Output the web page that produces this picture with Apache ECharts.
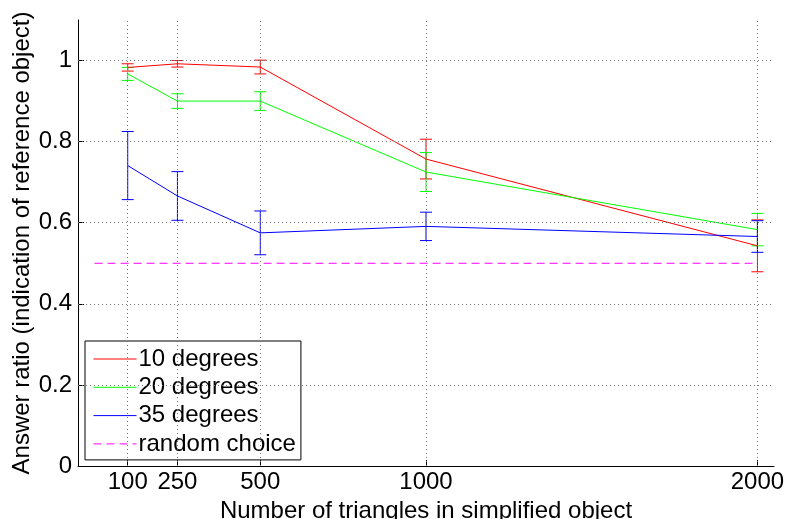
<!DOCTYPE html>
<html>
<head>
<meta charset="utf-8">
<script src="https://cdn.jsdelivr.net/npm/echarts@6/dist/echarts.min.js"></script>
<style>
html,body{margin:0;padding:0;background:#fff;}
#chart{width:787px;height:519px;}
</style>
</head>
<body>
<div id="chart"></div>
<script>
// ---- data ----
const triangles = [100, 250, 500, 1000, 2000];
const deg10 = [0.983, 0.992, 0.984, 0.757, 0.543];
const deg10Err = [0.009, 0.008, 0.017, 0.049, 0.064];
const deg20 = [0.967, 0.900, 0.900, 0.725, 0.583];
const deg20Err = [0.016, 0.018, 0.023, 0.048, 0.040];
const deg35 = [0.741, 0.666, 0.575, 0.591, 0.566];
const deg35Err = [0.084, 0.060, 0.054, 0.035, 0.039];
const randomX = [0, 2000];
const randomY = [0.5, 0.5];
const xTicks = [100, 250, 500, 1000, 2000];
const yTicks = [0, 0.2, 0.4, 0.6, 0.8, 1];
const seriesNames = ['10 degrees', '20 degrees', '35 degrees', 'random choice'];
const xTitle = 'Number of triangles in simplified object';
const yTitle = 'Answer ratio (indication of reference object)';

const FONT = '"Liberation Sans", Arial, Helvetica, sans-serif';
const colors = ['#ff0000', '#00ff00', '#0000ff', '#ff00ff'];

function pairs(xs, ys) { return xs.map((x, i) => [x, ys[i]]); }
function errData(xs, ys, es) { return xs.map((x, i) => [x, ys[i] - es[i], ys[i] + es[i]]); }

function errSeries(data, color) {
  return {
    type: 'custom',
    name: 'err',
    data: data,
    encode: { x: 0, y: [1, 2] },
    silent: true,
    renderItem: function (params, api) {
      const x = api.value(0);
      const pLo = api.coord([x, api.value(1)]);
      const pHi = api.coord([x, api.value(2)]);
      const hw = 6;
      const st = { stroke: color, lineWidth: 1 };
      return {
        type: 'group',
        children: [
          { type: 'line', shape: { x1: pLo[0], y1: pLo[1], x2: pHi[0], y2: pHi[1] }, style: st },
          { type: 'line', shape: { x1: pLo[0] - hw, y1: pLo[1], x2: pLo[0] + hw, y2: pLo[1] }, style: st },
          { type: 'line', shape: { x1: pHi[0] - hw, y1: pHi[1], x2: pHi[0] + hw, y2: pHi[1] }, style: st }
        ]
      };
    }
  };
}

function lineSeries(name, data, color, dashed) {
  return {
    type: 'line',
    name: name,
    data: data,
    symbol: 'none',
    silent: true,
    lineStyle: { color: color, width: 1, type: dashed ? [8, 5] : 'solid' },
    itemStyle: { color: color }
  };
}

const gridLineData = xTicks.map(v => ({ xAxis: v })).concat(yTicks.filter(v => v > 0).map(v => ({ yAxis: v })));

const chart = echarts.init(document.getElementById('chart'), null, { renderer: 'canvas' });
chart.setOption({
  animation: false,
  backgroundColor: '#fff',
  textStyle: { fontFamily: FONT },
  grid: { left: 78, right: 13, top: 20, bottom: 53, containLabel: false, outerBoundsMode: 'none' },
  xAxis: {
    type: 'value',
    min: -50,
    max: 2050,
    name: xTitle,
    nameLocation: 'middle',
    nameGap: 33,
    nameMoveOverlap: false,
    nameTextStyle: { fontSize: 24, color: '#000', fontFamily: FONT },
    axisLine: { show: true, onZero: false, lineStyle: { color: '#000', width: 1 } },
    axisTick: { show: true, inside: true, length: 6, customValues: xTicks, lineStyle: { color: '#000' } },
    axisLabel: { show: true, customValues: xTicks, fontSize: 24, color: '#000', margin: 4, fontFamily: FONT,
      formatter: v => String(v) },
    splitLine: { show: false }
  },
  yAxis: {
    type: 'value',
    min: 0,
    max: 1.1,
    name: yTitle,
    nameLocation: 'middle',
    nameGap: 44,
    nameMoveOverlap: false,
    nameTextStyle: { fontSize: 24, color: '#000', fontFamily: FONT },
    axisLine: { show: true, onZero: false, lineStyle: { color: '#000', width: 1 } },
    axisTick: { show: true, inside: true, length: 6, customValues: yTicks, lineStyle: { color: '#000' } },
    axisLabel: { show: true, customValues: yTicks, fontSize: 24, color: '#000', margin: 6, fontFamily: FONT,
      formatter: v => String(v) },
    splitLine: { show: false }
  },
  legend: {
    data: seriesNames,
    orient: 'vertical',
    left: 85,
    top: 341,
    padding: [6, 5, 4, 8],
    itemWidth: 43,
    itemHeight: 14,
    itemGap: 4.3,
    backgroundColor: '#fff',
    borderColor: '#000',
    borderWidth: 1,
    borderRadius: 0,
    selectedMode: false,
    itemStyle: { opacity: 0, borderWidth: 0 },
    lineStyle: { width: 1 },
    textStyle: { fontSize: 24, lineHeight: 24, color: '#000', fontFamily: FONT, padding: [0, 0, 0, -3] }
  },
  series: [
    {
      type: 'line',
      name: 'grid',
      data: [],
      silent: true,
      markLine: {
        silent: true,
        symbol: 'none',
        label: { show: false },
        lineStyle: { color: '#777', width: 1, type: [1, 3] },
        data: gridLineData,
        animation: false
      }
    },
    lineSeries(seriesNames[0], pairs(triangles, deg10), colors[0], false),
    errSeries(errData(triangles, deg10, deg10Err), colors[0]),
    lineSeries(seriesNames[1], pairs(triangles, deg20), colors[1], false),
    errSeries(errData(triangles, deg20, deg20Err), colors[1]),
    lineSeries(seriesNames[2], pairs(triangles, deg35), colors[2], false),
    errSeries(errData(triangles, deg35, deg35Err), colors[2]),
    lineSeries(seriesNames[3], pairs(randomX, randomY), colors[3], true)
  ]
});
</script>
</body>
</html>
